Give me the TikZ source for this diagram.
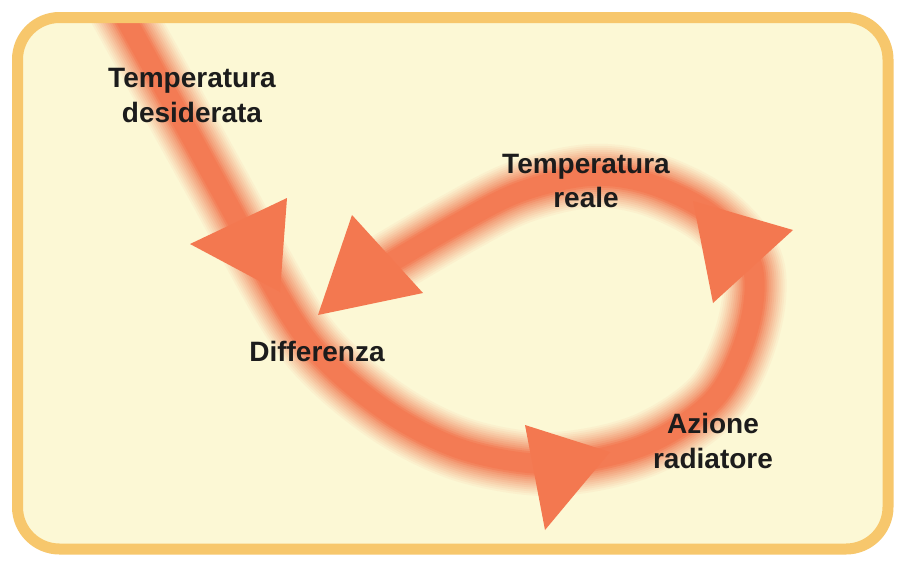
\documentclass[tikz,border=0pt]{standalone}
\usepackage{fontspec}
\setmainfont{Liberation Sans}
\usepackage{tikz}
\usetikzlibrary{positioning}
\definecolor{cream}{HTML}{FCF8D5}
\definecolor{framegold}{HTML}{F7C76C}
\definecolor{salmon}{HTML}{F37850}
\definecolor{inkblack}{HTML}{1C1C1C}

\begin{document}
\begin{tikzpicture}[x=1pt,y=-1pt,
			band/.style={salmon,line cap=butt,line join=round},
			head/.style={fill=salmon,draw=none},
			frame/.style={draw=framegold,line width=11pt,rounded corners=42pt},
			lbl/.style={align=center,text=inkblack,inner sep=0pt,font=\fontsize{28}{35}\selectfont\bfseries}
			]
			\useasboundingbox (0,0) rectangle (897,560);
			\fill[white] (0,0) rectangle (897,560);
			\fill[cream,rounded corners=42pt] (17.5,17.5) rectangle (888,549);
			% points along the band
			\coordinate (b0) at (118,5);
			\coordinate (b1) at (215,180);
			\coordinate (b2) at (290,315);
			\coordinate (b3) at (335,370);
			\coordinate (b4) at (400,420);
			\coordinate (b5) at (470,452);
			\coordinate (b6) at (555,464);
			\coordinate (b7) at (645,445);
			\coordinate (b8) at (715,398);
			\coordinate (b9) at (748,330);
			\coordinate (b10) at (752,265);
			\coordinate (b11) at (712,215);
			\coordinate (b12) at (650,184);
			\coordinate (b13) at (590,176);
			\coordinate (b14) at (520,192);
			\coordinate (b15) at (455,225);
			\coordinate (b16) at (375,272);
			\begin{scope}
				\clip[rounded corners=42pt] (17.5,17.5) rectangle (888,549);
				\foreach \w/\o in {64/0.06,60/0.07,56/0.08,52/0.09,48/0.1,44/0.12,40/0.14,36/0.16,32/0.2,28/0.3,24/0.5,20/0.7}
				\draw[band,line width=\w pt,opacity=\o] plot[smooth,tension=0.55] coordinates {(b0) (b1) (b2) (b3) (b4) (b5) (b6) (b7) (b8) (b9) (b10) (b11) (b12) (b13) (b14) (b15) (b16)};
			\end{scope}
			% arrow heads
			\fill[head] (190,244) -- (287,198) -- (280,292) -- cycle;
			\fill[head] (318,315) -- (352,215) -- (423,293) -- cycle;
			\fill[head] (693,201) -- (793,230) -- (713,303) -- cycle;
			\fill[head] (525,425) -- (610,452) -- (545,530) -- cycle;
			\draw[frame] (17.5,17.5) rectangle (888,549);
			% labels
			\node[lbl] (desired) at (192,96) {Temperatura\\desiderata};
			\node[lbl] (actual) at (586,181) {Temperatura\\reale};
			\node[lbl] (diff) at (317,351) {Differenza};
			\node[lbl] (heater) at (713,441) {Azione\\radiatore};
		\end{tikzpicture}
\end{document}
